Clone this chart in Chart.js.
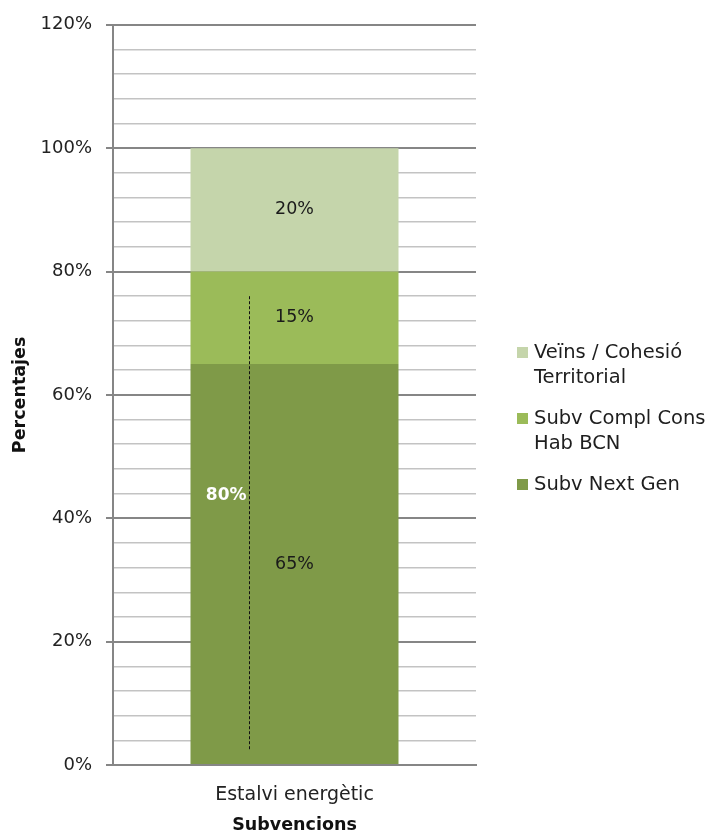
<!DOCTYPE html>
<html><head><meta charset="utf-8">
<script src="https://cdn.jsdelivr.net/npm/chart.js@4.4.1/dist/chart.umd.min.js"></script>
<style>
html,body{margin:0;padding:0;background:#fff;}
#wrap{position:relative;width:720px;height:836px;}
#c{position:absolute;left:0;top:0;width:720px;height:836px;}
#legend{position:absolute;left:517px;top:339px;font-family:'DejaVu Sans';font-size:19.5px;color:#1e1e1e;}
.item{display:flex;align-items:flex-start;margin-bottom:16px;}
.sw{width:11px;height:11px;margin-top:8px;margin-right:6px;flex:none;}
.txt{line-height:25px;white-space:nowrap;}
</style></head>
<body><div id="wrap"><canvas id="c" width="720" height="836"></canvas><div id="legend"></div></div>
<script>
const categories = ['Estalvi energètic'];
const seriesNames = ['Subv Next Gen', 'Subv Compl Cons Hab BCN', 'Veïns / Cohesió Territorial'];
const legendLines = [['Veïns / Cohesió', 'Territorial'], ['Subv Compl Cons', 'Hab BCN'], ['Subv Next Gen']];
const nextGen = [65];
const complCons = [15];
const veins = [20];
const seriesColors = ['#7f9a48', '#9bbb59', '#c5d5ab'];
const yTickValues = [0, 20, 40, 60, 80, 100, 120];
const markerRange = [2.4, 76];
const markerLabel = ['80%'];
const markerLabelValue = [43.6];

const FONT = "'DejaVu Sans'";
Chart.defaults.font.family = FONT;
Chart.defaults.color = '#222';

// HTML legend
const lg = document.getElementById('legend');
[2, 1, 0].forEach((si, k) => {
  const it = document.createElement('div'); it.className = 'item';
  const sw = document.createElement('div'); sw.className = 'sw'; sw.style.background = seriesColors[si];
  const tx = document.createElement('div'); tx.className = 'txt'; tx.innerHTML = legendLines[k].join('<br>');
  it.appendChild(sw); it.appendChild(tx); lg.appendChild(it);
});

const overlay = {
  id: 'overlay',
  afterDatasetsDraw(chart) {
    const ctx = chart.ctx, ys = chart.scales.y;
    ctx.save();
    // segment labels
    ctx.font = '17.5px ' + FONT; ctx.fillStyle = '#1a1a1a';
    ctx.textAlign = 'center'; ctx.textBaseline = 'middle';
    chart.data.datasets.forEach((ds, i) => {
      chart.getDatasetMeta(i).data.forEach((el, j) => {
        ctx.fillText(ds.data[j] + '%', el.x, (el.y + el.base) / 2);
      });
    });
    // dashed marker
    const el = chart.getDatasetMeta(0).data[0];
    const lx = Math.round(el.x - el.width / 2 + el.width * 0.279) + 0.5;
    ctx.strokeStyle = '#111'; ctx.lineWidth = 1; ctx.setLineDash([3, 2]);
    ctx.beginPath();
    ctx.moveTo(lx, ys.getPixelForValue(markerRange[1]));
    ctx.lineTo(lx, ys.getPixelForValue(markerRange[0]));
    ctx.stroke();
    ctx.setLineDash([]);
    ctx.font = 'bold 17px ' + FONT; ctx.fillStyle = '#ffffff'; ctx.textAlign = 'right';
    ctx.fillText(markerLabel[0], lx - 3, ys.getPixelForValue(markerLabelValue[0]));
    ctx.restore();
  }
};

new Chart(document.getElementById('c'), {
  type: 'bar',
  data: {
    labels: categories,
    datasets: [
      { label: seriesNames[0], data: nextGen, backgroundColor: seriesColors[0] },
      { label: seriesNames[1], data: complCons, backgroundColor: seriesColors[1] },
      { label: seriesNames[2], data: veins, backgroundColor: seriesColors[2] }
    ]
  },
  options: {
    responsive: false, animation: false,
    layout: { padding: { left: 0, right: 244, top: 18, bottom: 0 } },
    datasets: { bar: { barPercentage: 1, categoryPercentage: 0.573 } },
    plugins: { legend: { display: false }, tooltip: { enabled: false } },
    scales: {
      x: {
        stacked: true,
        grid: { display: false, drawTicks: false },
        border: { color: '#868686', width: 2 },
        ticks: { font: { size: 19 }, color: '#222', padding: 19 },
        title: { display: true, text: 'Subvencions', font: { size: 17.5, weight: 'bold' }, color: '#111', padding: { top: 0, bottom: 0 } },
        afterFit(s) { s.height = 71; }
      },
      y: {
        stacked: true, min: 0, max: 120,
        border: { color: '#868686', width: 2 },
        grid: {
          color: c => (yTickValues.includes(Math.round(c.tick.value)) ? '#868686' : '#c3c3c3'),
          lineWidth: c => (yTickValues.includes(Math.round(c.tick.value)) ? 2 : 1.5),
          tickColor: c => (yTickValues.includes(Math.round(c.tick.value)) ? '#868686' : 'rgba(0,0,0,0)'),
          tickLength: 7
        },
        ticks: {
          stepSize: 4, autoSkip: false, font: { size: 18 }, color: '#222', padding: 14,
          callback: v => (yTickValues.includes(Math.round(v)) ? Math.round(v) + '%' : '')
        },
        title: { display: true, text: 'Percentajes', font: { size: 17.5, weight: 'bold' }, color: '#111', padding: { top: 10, bottom: 0 } },
        afterFit(s) { s.width = 113; }
      }
    }
  },
  plugins: [overlay]
});
</script>
</body></html>
